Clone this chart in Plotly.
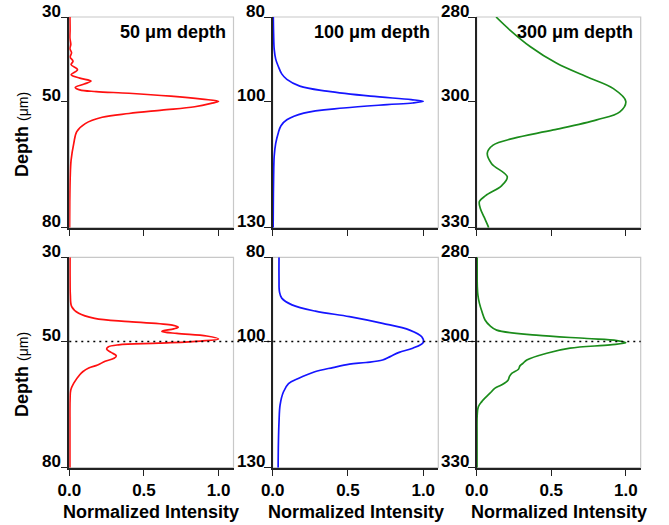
import plotly.graph_objects as go

# ---------------- data ----------------
# Top row: 50, 100, 300 um depth (depth in um, normalized intensity)
depth_r1 = [30, 33, 35, 36.5, 37.5, 38.5, 39.5, 40.5, 41.3, 42.5, 43.7, 44.5, 45.2, 45.9,
            46.7, 47.3, 47.7, 48.1, 48.8, 49.5, 50.0, 50.5, 51.3, 52.1, 52.9, 53.8, 55.3,
            57.2, 60, 64, 68, 74, 80]
int_r1 = [0.004, 0.005, 0.004, 0.010, 0.004, 0.015, 0.006, 0.025, 0.012, 0.055, 0.012,
          0.07, 0.145, 0.10, 0.04, 0.07, 0.18, 0.40, 0.68, 0.89, 1.0, 0.95, 0.84, 0.62,
          0.40, 0.22, 0.107, 0.05, 0.03, 0.012, 0.006, 0.003, 0.002]

depth_b1 = [80, 84, 87.7, 90, 91.7, 93.5, 94.8, 96.4, 97.6, 98.8, 99.6, 100, 100.4, 100.8,
            101.6, 102.8, 104.4, 105.8, 107.5, 110, 113, 118, 124, 130]
int_b1 = [0.004, 0.006, 0.01, 0.02, 0.037, 0.06, 0.094, 0.18, 0.36, 0.65, 0.92, 1.0, 0.93,
          0.76, 0.47, 0.206, 0.094, 0.055, 0.037, 0.02, 0.01, 0.006, 0.004, 0.003]

depth_g1 = [280, 283.1, 287.0, 291.0, 294.2, 297.0, 300.0, 302.5, 304.4, 306.8, 308.8,
            310.4, 312.3, 314.8, 317.9, 320, 322.4, 323.8, 325.5, 327.5, 329.5, 330]
int_g1 = [0.13, 0.223, 0.358, 0.537, 0.738, 0.917, 1.0, 0.96, 0.805, 0.514, 0.246, 0.11,
          0.071, 0.10, 0.205, 0.168, 0.06, 0.018, 0.025, 0.05, 0.075, 0.08]

# Bottom row
depth_r2 = [30, 35, 39, 41.7, 43.3, 44.5, 45.3, 46.1, 46.6, 47.0, 47.6, 48.1, 48.7, 49.4,
            49.9, 50.4, 50.8, 51.3, 51.8, 52.6, 53.4, 54.0, 54.7, 55.6, 56.3, 57.2, 57.9,
            59.9, 61.5, 63.9, 70, 80]
int_r2 = [0.005, 0.005, 0.007, 0.016, 0.063, 0.17, 0.40, 0.69, 0.73, 0.70, 0.62, 0.72,
          0.92, 1.0, 0.88, 0.6, 0.33, 0.26, 0.25, 0.28, 0.315, 0.30, 0.24, 0.19, 0.13,
          0.09, 0.07, 0.03, 0.01, 0.005, 0.004, 0.004]

depth_b2 = [80, 85, 88.2, 89.7, 91.3, 92.8, 94.1, 95.7, 97.3, 98.9, 100.2, 101.6, 102.6,
            103.6, 104.4, 105.0, 105.4, 106.2, 107.2, 108.8, 110.0, 112.0, 115.1, 119.1,
            124, 130]
int_b2 = [0.042, 0.042, 0.045, 0.06, 0.128, 0.284, 0.51, 0.73, 0.91, 0.99, 1.0, 0.93, 0.84,
          0.78, 0.73, 0.62, 0.51, 0.40, 0.28, 0.17, 0.105, 0.071, 0.049, 0.042, 0.038, 0.036]

depth_g2 = [280, 284, 287, 289, 290.9, 292.9, 294.9, 296.3, 297.3, 298.5, 299.3, 299.8,
            300.3, 300.8, 301.6, 302.8, 304.4, 305.2, 305.8, 306.6, 307.6, 308.3, 309.2,
            310.3, 311.1, 312.3, 313.3, 314.3, 315.5, 317.7, 322, 330]
int_g2 = [0.003, 0.003, 0.004, 0.008, 0.018, 0.035, 0.056, 0.09, 0.134, 0.40, 0.74, 0.94,
          1.0, 0.895, 0.626, 0.47, 0.336, 0.31, 0.29, 0.28, 0.235, 0.22, 0.21, 0.168, 0.123,
          0.089, 0.06, 0.034, 0.011, 0.003, 0.002, 0.002]

panel_labels = ["50 μm depth", "100 μm depth", "300 μm depth"]
y_ranges = [[80, 30], [130, 80], [330, 280]]
y_ticks = [[30, 50, 80], [80, 100, 130], [280, 300, 330]]
focus_depths = [50, 100, 300]
x_ticks = [0, 0.5, 1.0]
x_ticktext = ["0.0", "0.5", "1.0"]
colors = ["#ff1010", "#1515ff", "#1b8c1b"]

series = [
    (depth_r1, int_r1), (depth_b1, int_b1), (depth_g1, int_g1),
    (depth_r2, int_r2), (depth_b2, int_b2), (depth_g2, int_g2),
]

# ---------------- layout geometry ----------------
W, H = 669, 525
FONT = "Liberation Sans, Arial, sans-serif"


def fx(p):
    return p / W


def fy(p):
    return 1 - p / H


col_px = [(69.3, 233.5), (272.7, 438.3), (476.7, 640.7)]
row_px = [(17.0, 227.7), (257.3, 467.7)]

fig = go.Figure()
layout = dict(
    template="none",
    width=W, height=H, autosize=False,
    margin=dict(l=0, r=0, t=0, b=0, pad=0, autoexpand=False),
    paper_bgcolor="white", plot_bgcolor="white",
    showlegend=False,
    font=dict(family=FONT, color="black"),
)
shapes = []
annotations = []

for i, (dep, inten) in enumerate(series):
    r, c = divmod(i, 3)
    n = i + 1
    xa = "x" if n == 1 else f"x{n}"
    ya = "y" if n == 1 else f"y{n}"
    fig.add_trace(go.Scatter(
        x=inten, y=dep, xaxis=xa, yaxis=ya, mode="lines",
        line=dict(color=colors[c], width=1.7, shape="spline", smoothing=1.0),
        hoverinfo="skip",
    ))
    x0, x1 = col_px[c]
    y0, y1 = row_px[r]
    layout[f"xaxis{'' if n == 1 else n}"] = dict(
        domain=[fx(x0), fx(x1)], anchor=ya, range=[0, 1.1], automargin=False,
        showgrid=False, zeroline=False, showline=True, linecolor="#222222",
        linewidth=1.6, ticks="outside", ticklen=6, tickwidth=1.4,
        tickcolor="#222222", tickvals=x_ticks, ticktext=x_ticktext,
        showticklabels=(r == 1),
        tickfont=dict(family=FONT, size=17, weight="bold", color="black"),
        fixedrange=True,
    )
    layout[f"yaxis{'' if n == 1 else n}"] = dict(
        domain=[fy(y1), fy(y0)], anchor=xa, range=y_ranges[c], automargin=False,
        showgrid=False, zeroline=False, showline=True, linecolor="#222222",
        linewidth=1.6, ticks="outside", ticklen=7, tickwidth=1.4,
        tickcolor="#222222", tickvals=y_ticks[c], showticklabels=False,
        fixedrange=True,
    )
    # y tick labels sit just above their tick (baseline on the tick)
    for tv in y_ticks[c]:
        annotations.append(dict(
            xref="paper", yref=ya, x=fx(x0 - 7), y=tv,
            xanchor="right", yanchor="middle", yshift=6, showarrow=False,
            text=f"<b>{tv}</b>", borderpad=0,
            font=dict(family=FONT, size=17, color="black")))
    # light grey frame (top/right)
    shapes.append(dict(type="rect", xref="paper", yref="paper",
                       x0=fx(x0), x1=fx(x1), y0=fy(y1), y1=fy(y0),
                       line=dict(color="#c8c8c8", width=1.2), layer="below"))
    if r == 0:
        annotations.append(dict(
            xref="paper", yref="paper", x=fx(x1 - 6), y=fy(31.5),
            xanchor="right", yanchor="middle", showarrow=False,
            text=f"<b>{panel_labels[c]}</b>",
            font=dict(family=FONT, size=18, color="black")))
    else:
        annotations.append(dict(
            xref="paper", yref="paper", x=fx((x0 + x1) / 2), y=fy(511.5),
            xanchor="center", yanchor="middle", showarrow=False,
            text="<b>Normalized Intensity</b>",
            font=dict(family=FONT, size=18, color="black")))

# y-axis titles
for yc in (135, 375):
    annotations.append(dict(
        xref="paper", yref="paper", x=fx(22), y=fy(yc),
        xanchor="center", yanchor="middle", showarrow=False, textangle=-90,
        text="<b>Depth</b> <span style='font-size:14px'>(μm)</span>",
        font=dict(family=FONT, size=18, color="black")))

# dotted focus line across the bottom row
shapes.append(dict(type="line", xref="paper", yref="y4",
                   x0=fx(col_px[0][0]), x1=fx(col_px[2][1]),
                   y0=focus_depths[0], y1=focus_depths[0],
                   line=dict(color="black", width=1.6, dash="2px,4px"), layer="above"))

layout["shapes"] = shapes
layout["annotations"] = annotations
fig.update_layout(**layout)
fig.write_html("out.html")
